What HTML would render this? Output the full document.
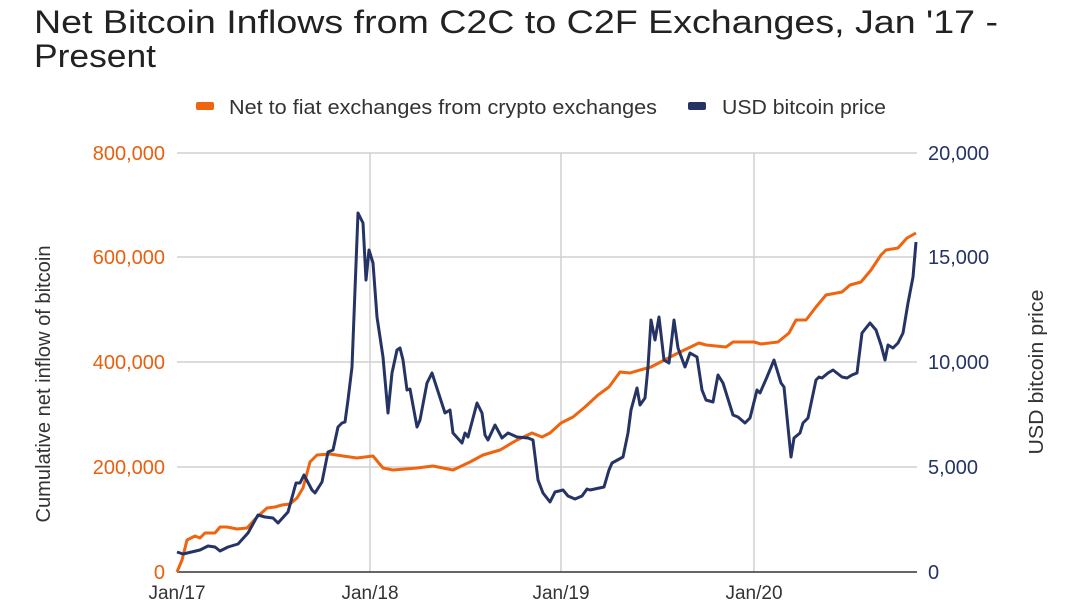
<!DOCTYPE html>
<html><head><meta charset="utf-8"><style>
body{margin:0;background:#fff;}
svg{display:block;font-family:"Liberation Sans",sans-serif;}
</style></head><body>
<svg width="1080" height="608" viewBox="0 0 1080 608">
<text x="34" y="33" font-size="32" fill="#222" textLength="964" lengthAdjust="spacingAndGlyphs">Net Bitcoin Inflows from C2C to C2F Exchanges, Jan '17 -</text>
<text x="34" y="67" font-size="32" fill="#222" textLength="122" lengthAdjust="spacingAndGlyphs">Present</text>
<rect x="196" y="102" width="18" height="8" rx="2" fill="#ef650f"/>
<text x="229" y="114" font-size="20" fill="#333" textLength="428" lengthAdjust="spacingAndGlyphs">Net to fiat exchanges from crypto exchanges</text>
<rect x="688" y="102" width="18" height="8" rx="2" fill="#253465"/>
<text x="722" y="114" font-size="20" fill="#333" textLength="164" lengthAdjust="spacingAndGlyphs">USD bitcoin price</text>
<g stroke="#d0d0d0" stroke-width="1.5">
<line x1="177" y1="153" x2="917" y2="153"/><line x1="177" y1="257" x2="917" y2="257"/>
<line x1="177" y1="362" x2="917" y2="362"/><line x1="177" y1="467" x2="917" y2="467"/>
<line x1="370" y1="153" x2="370" y2="572"/><line x1="561" y1="153" x2="561" y2="572"/><line x1="754" y1="153" x2="754" y2="572"/>
</g>
<line x1="177" y1="572" x2="917" y2="572" stroke="#333" stroke-width="1.5"/>
<g font-size="20" fill="#e8600f" text-anchor="end">
<text x="165" y="160">800,000</text><text x="165" y="264">600,000</text><text x="165" y="369">400,000</text><text x="165" y="474">200,000</text><text x="165" y="579">0</text></g>
<g font-size="20" fill="#253465">
<text x="928" y="160">20,000</text><text x="928" y="264">15,000</text><text x="928" y="369">10,000</text><text x="928" y="474">5,000</text><text x="928" y="579">0</text></g>
<g font-size="19" fill="#333" text-anchor="middle">
<text x="177" y="599">Jan/17</text><text x="370" y="599">Jan/18</text><text x="561" y="599">Jan/19</text><text x="754" y="599">Jan/20</text></g>
<text transform="translate(50,384) rotate(-90)" font-size="20" fill="#333" text-anchor="middle" textLength="277" lengthAdjust="spacingAndGlyphs">Cumulative net inflow of bitcoin</text>
<text transform="translate(1043,372) rotate(-90)" font-size="20" fill="#333" text-anchor="middle" textLength="165" lengthAdjust="spacingAndGlyphs">USD bitcoin price</text>
<polyline fill="none" stroke="#ef650f" stroke-width="3" stroke-linejoin="round" points="177,572 182,560 187,540 195,536 200,538 205,533 215,533 220,527 227,527 237,529 247,528 257,517 267,508 275,507 282,505 290,504 297,498 303,488 310,462 317,455 330,454 343,456 357,458 373,456 383,468 393,470 417,468 433,466 453,470 470,462 483,455 500,450 517,440 532,433 542,437 550,433 561,423 573,417 585,407 598,395 609,387 620,372 630,373 640,370 651,367 678,353 699,343 706,345 726,347 733,342 754,342 761,344 778,342 789,333 796,320 806,320 816,307 826,295 842,292 850,285 861,282 871,270 881,255 886,250 898,248 907,238 916,233"/>
<polyline fill="none" stroke="#253465" stroke-width="3" stroke-linejoin="round" points="177,552 183,554 200,550 208,546 215,547 220,551 228,547 238,544 248,533 258,515 265,517 273,518 278,523 288,512 296,483 300,483 304,475 312,490 315,493 322,482 328,452 333,450 338,427 342,423 345,422 348,400 352,367 355,290 358,213 363,223 366,280 369,250 373,263 377,317 383,357 388,413 392,373 397,350 400,348 403,360 407,390 410,389 417,427 420,420 427,383 432,373 445,413 450,410 453,433 462,443 465,433 468,437 477,403 482,413 485,435 488,440 495,425 502,438 508,433 517,437 528,438 533,440 538,480 543,493 550,502 555,492 563,490 568,496 575,499 582,496 587,489 590,490 604,487 609,470 612,463 623,457 628,433 631,410 637,388 640,405 645,398 648,367 651,320 655,340 659,317 664,360 669,363 674,320 678,348 685,367 690,353 697,357 702,390 706,400 713,402 718,375 723,383 733,415 738,417 745,423 750,418 757,390 760,393 767,377 774,360 781,383 784,387 791,457 794,438 800,433 803,423 808,418 816,380 819,377 822,378 828,373 833,370 842,377 847,378 852,375 857,373 862,333 870,323 876,330 881,345 885,360 888,345 893,348 898,343 903,333 908,303 913,277 916,242"/>
</svg>
</body></html>
